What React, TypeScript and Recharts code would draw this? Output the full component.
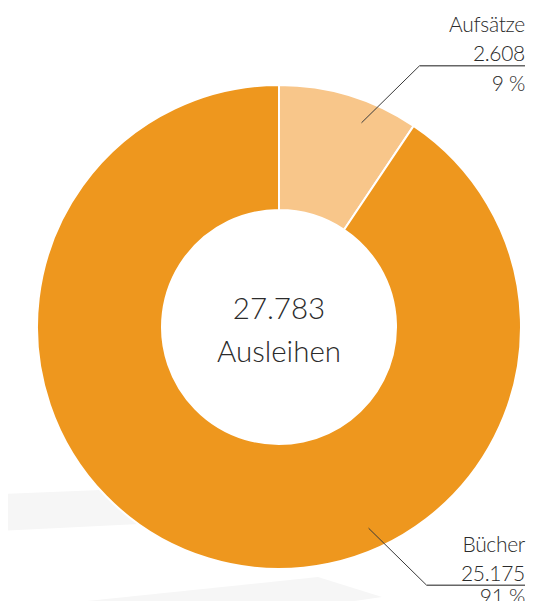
import { PieChart, Pie, Cell } from 'recharts';

const categories = ['Aufsätze', 'Bücher'];
const loans = [2608, 25175];
const centerLabel = 'Ausleihen';

const colors = ['#F8C68A', '#EE971E'];
// Winkel, an dem die Hinweislinie im Segment beginnt
const labelAngles = [68, -66];

const FONT = 'Lato, "Open Sans", sans-serif';
const RADIAN = Math.PI / 180;

const fmt = (n: number) => String(n).replace(/\B(?=(\d{3})+(?!\d))/g, '.');
const total = loans.reduce((a, b) => a + b, 0);

const chartData = categories.map((name, i) => ({ name, value: loans[i] }));

const renderLabel = (props: any) => {
  const { cx, cy, outerRadius, index, value, percent } = props;
  const angle = labelAngles[index];
  const r = outerRadius * 0.91;
  const sx = cx + r * Math.cos(angle * RADIAN);
  const sy = cy - r * Math.sin(angle * RADIAN);
  const up = angle > 0;
  const ex = sx + 58;
  const ey = up ? sy - 57 : sy + 57;
  const endX = cx + outerRadius + 4;
  return (
    <g>
      <path d={`M${sx},${sy}L${ex},${ey}`} stroke="#3a3a3a" strokeWidth={1} fill="none" />
      <path d={`M${ex},${ey}L${endX},${ey}`} stroke="#666" strokeWidth={1.5} fill="none" />
      <text textAnchor="end" fontFamily={FONT} fontWeight={300} fontSize={21} letterSpacing={-0.3} fill="#2b2b2b">
        <tspan x={endX} y={ey - 42} dominantBaseline="central">{categories[index]}</tspan>
        <tspan x={endX} y={ey - 13} dominantBaseline="central">{fmt(value)}</tspan>
        <tspan x={endX} y={ey + (up ? 17 : 10)} dominantBaseline="central">{Math.round(percent * 100)} %</tspan>
      </text>
      {index === 0 && (
        <text textAnchor="middle" fontFamily={FONT} fontWeight={300} fontSize={29.5} fill="#2b2b2b">
          <tspan x={cx} y={cy - 20} dominantBaseline="central">{fmt(total)}</tspan>
          <tspan x={cx} y={cy + 23} dominantBaseline="central">{centerLabel}</tspan>
        </text>
      )}
    </g>
  );
};

export default function App() {
  return (
    <div style={{ position: 'relative', width: 545, height: 609, margin: -8, background: '#fff', overflow: 'hidden' }}>
      <svg width={545} height={609} style={{ position: 'absolute', left: 0, top: 0 }}>
        <polygon points="0,494 300,482 320,515 0,531" fill="#f6f6f6" />
        <polygon points="10,609 318,577 382,597 300,609" fill="#f6f6f6" />
      </svg>
      <PieChart width={545} height={609} margin={{ top: 0, right: 0, bottom: 0, left: 0 }} style={{ position: 'absolute', left: 0, top: 0 }}>
        <Pie
          data={chartData}
          dataKey="value"
          nameKey="name"
          cx={279}
          cy={327}
          innerRadius={117}
          outerRadius={242}
          startAngle={90}
          endAngle={-270}
          stroke="#fff"
          strokeWidth={2}
          label={renderLabel}
          labelLine={false}
          isAnimationActive={false}
        >
          {chartData.map((d, i) => (
            <Cell key={d.name} fill={colors[i]} />
          ))}
        </Pie>
      </PieChart>
    </div>
  );
}
